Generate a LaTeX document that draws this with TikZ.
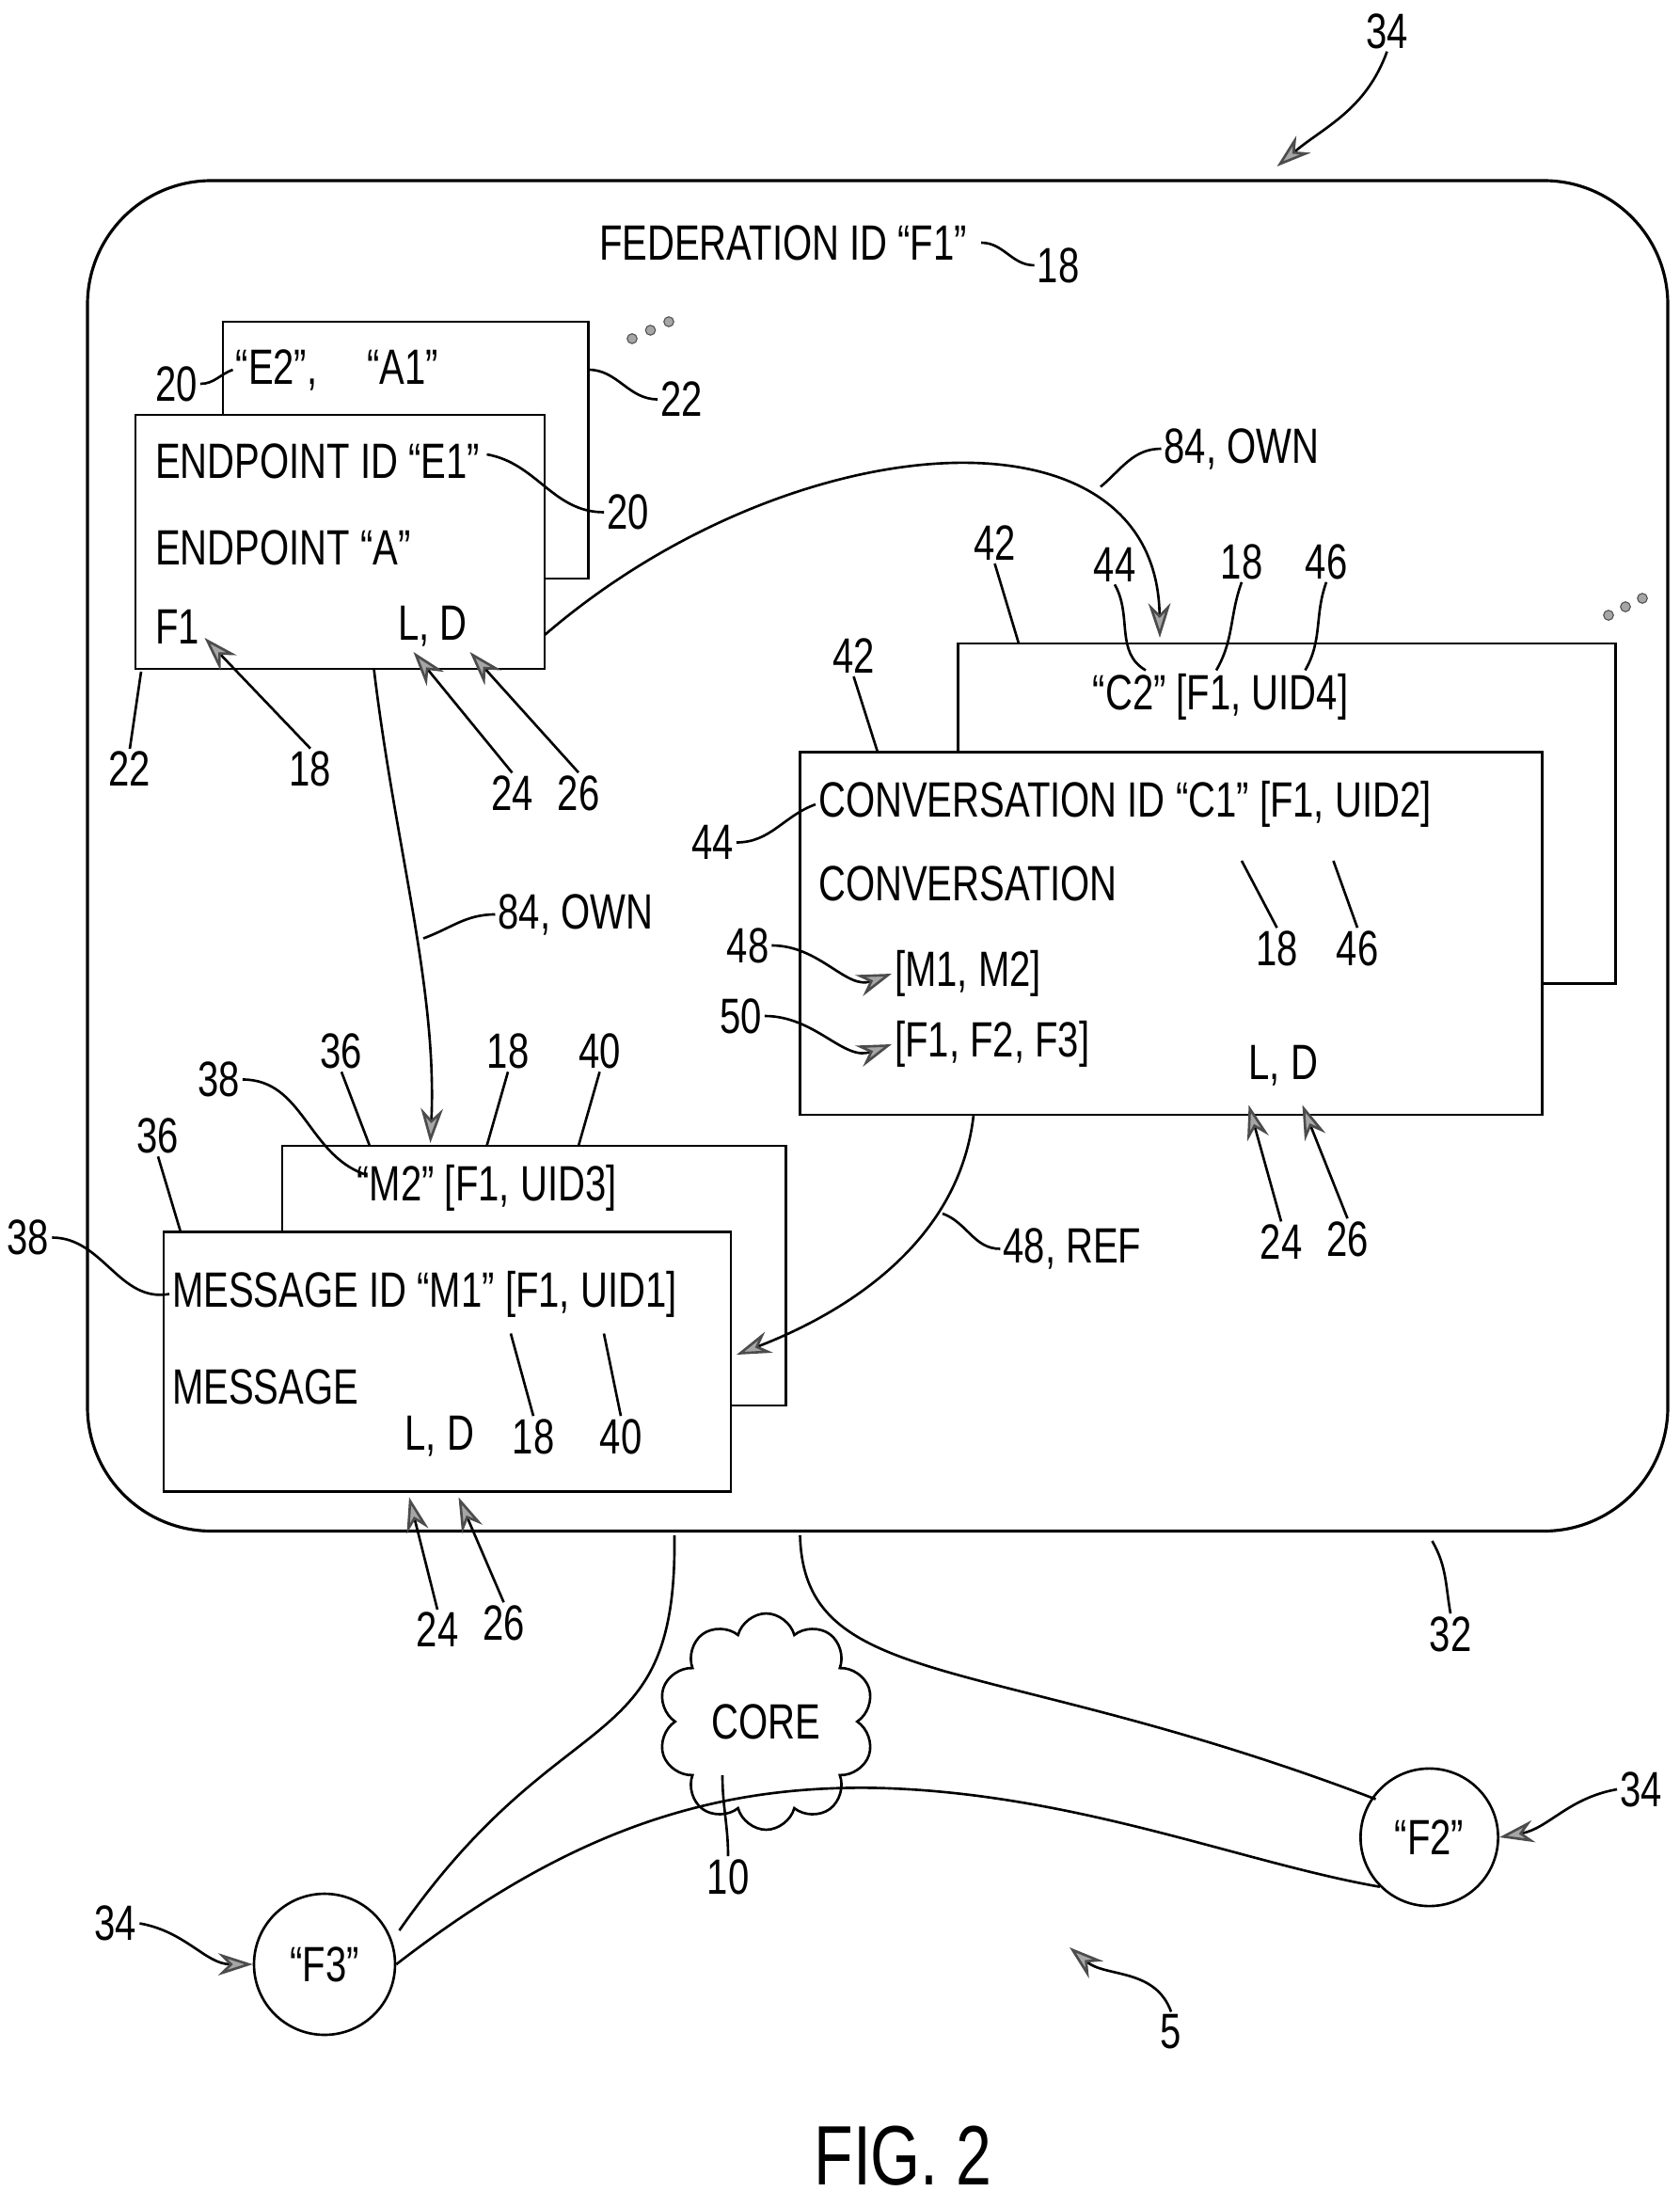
\documentclass[tikz,border=0pt]{standalone}
\usepackage{fontspec}
\setmainfont{Liberation Sans}[FakeStretch=0.76]
\usetikzlibrary{arrows.meta,shapes.symbols}
\begin{document}
\begin{tikzpicture}[x=0.02cm,y=-0.02cm,
  every node/.style={font=\fontsize{20}{24}\selectfont,inner sep=1pt},
  box/.style={draw,line width=1.1pt,fill=white},
  ln/.style={line width=1pt},
  dot/.style={circle,fill=gray!70,draw=black!70,inner sep=0pt,minimum size=4pt},
  arr/.style={line width=1pt,-{Stealth[length=14pt,width=9pt,color=black!70,fill=gray!70]}},
  lbl/.style={}]
\useasboundingbox (0,0) rectangle (1190,1564);
% outer federation
\draw[ln,line width=1.2pt,rounded corners=50] (62,128) rectangle (1182,1085);
\node[lbl] (fed) at (555,172) {FEDERATION ID ``F1''};
\node (n18a) at (750,188) {18};
\draw[ln] (fed.east)++(8,0) to[out=0,in=180] (n18a.west);
\node (n34a) at (983,22) {34};
\coordinate (c34a) at (905,118);
\draw[arr] (n34a.south) to[out=250,in=40] (c34a);
% endpoint boxes
\draw[box] (158,228) rectangle (417,410);
\draw[box] (96,294) rectangle (386,474);
\node[anchor=west] (e2) at (165,262) {``E2'',\quad ``A1''};
\node (n20a) at (125,272) {20};
\draw[ln] (n20a.east) to[out=0,in=200] (e2.west);
\node (n22a) at (483,283) {22};
\coordinate (c22a) at (417,262);
\draw[ln] (c22a) to[out=0,in=180] (n22a.west);
\node[dot] (d1) at (448,240) {}; \node[dot] (d2) at (461,234) {}; \node[dot] (d3) at (474,228) {};
\node[anchor=west] (e1) at (108,327) {ENDPOINT ID ``E1''};
\node[anchor=west] at (108,388) {ENDPOINT ``A''};
\node[anchor=west] (ef1) at (108,444) {F1};
\node[anchor=west] (eld) at (280,444) {L, D};
\node (n20b) at (445,363) {20};
\coordinate (c20b) at (345,322);
\draw[ln] (c20b) to[out=-10,in=180] (n20b.west);
\node (n22b) at (92,545) {22};
\draw[ln] (n22b.north) to (100,476);
\node (n18b) at (220,545) {18};
\draw[arr] (n18b.north) to (145,452);
\node (n24a) at (363,562) {24};
\draw[arr] (n24a.north) to (293,462);
\node (n26a) at (410,562) {26};
\draw[arr] (n26a.north) to (333,462);
% conversation boxes
\draw[box] (679,456) rectangle (1145,697);
\draw[box] (567,533) rectangle (1093,790);
\node (c2) at (865,494) {``C2'' [F1, UID4]};
\node[anchor=west] (c1) at (578,570) {CONVERSATION ID ``C1'' [F1, UID2]};
\node[anchor=west] at (578,626) {CONVERSATION};
\node[anchor=west] (m12) at (632,690) {[M1, M2]};
\node[anchor=west] (f123) at (632,740) {[F1, F2, F3]};
\node[anchor=west] at (883,755) {L, D};
\node (n42a) at (705,385) {42};
\draw[ln] (n42a.south) to (722,456);
\node (n42b) at (605,465) {42};
\draw[ln] (n42b.south) to (622,533);
\node (n44a) at (790,400) {44};
\node (n18c) at (880,398) {18};
\node (n46a) at (940,398) {46};
\draw[ln] (n44a.south) to[out=-60,in=150] (812,475);
\draw[ln] (n18c.south) to[out=-110,in=60] (862,475);
\draw[ln] (n46a.south) to[out=-110,in=60] (925,475);
\node[dot] (d4) at (1140,436) {}; \node[dot] (d5) at (1152,430) {}; \node[dot] (d6) at (1164,424) {};
\node (n44b) at (505,597) {44};
\draw[ln] (n44b.east) to[out=0,in=200] (c1.west);
\node (n48a) at (530,670) {48};
\draw[arr] (n48a.east) to[out=0,in=200] (m12.west);
\node (n50) at (525,720) {50};
\draw[arr] (n50.east) to[out=0,in=200] (f123.west);
\node (n18d) at (905,672) {18};
\draw[ln] (n18d.north) to (880,610);
\node (n46b) at (962,672) {46};
\draw[ln] (n46b.north) to (945,610);
\node (n24b) at (908,880) {24};
\draw[arr] (n24b.north) to (885,783);
\node (n26b) at (955,878) {26};
\draw[arr] (n26b.north) to (923,783);
% message boxes
\draw[box] (200,812) rectangle (557,996);
\draw[box] (116,873) rectangle (518,1057);
\node (m2) at (345,842) {``M2'' [F1, UID3]};
\node[anchor=west] (m1) at (120,917) {MESSAGE ID ``M1'' [F1, UID1]};
\node[anchor=west] at (120,983) {MESSAGE};
\node[anchor=west] at (285,1018) {L, D};
\node (n18e) at (378,1018) {18};
\draw[ln] (n18e.north) to (362,945);
\node (n40a) at (440,1018) {40};
\draw[ln] (n40a.north) to (428,945);
\node (n36a) at (112,805) {36};
\draw[ln] (n36a.south) to (128,873);
\node (n38a) at (20,877) {38};
\draw[ln] (n38a.east) to[out=0,in=190] (m1.west);
\node (n36b) at (242,745) {36};
\draw[ln] (n36b.south) to (262,812);
\node (n38b) at (155,765) {38};
\draw[ln] (n38b.east) to[out=0,in=160] (258,832);
\node (n18f) at (360,745) {18};
\draw[ln] (n18f.south) to (345,812);
\node (n40b) at (425,745) {40};
\draw[ln] (n40b.south) to (410,812);
\node (n24c) at (310,1155) {24};
\draw[arr] (n24c.north) to (290,1061);
\node (n26c) at (357,1150) {26};
\draw[arr] (n26c.north) to (325,1061);
\node (n32) at (1028,1158) {32};
\draw[ln] (n32.north) to[out=100,in=-60] (1015,1092);
% connectors
\coordinate (ownA) at (386,450);
\coordinate (ownB) at (822,452);
\draw[arr] (ownA) .. controls (560,300) and (820,280) .. (ownB);
\node (own1) at (880,318) {84, OWN};
\draw[ln] (own1.west) to[out=180,in=40] (780,345);
\coordinate (ownC) at (265,474);
\coordinate (ownD) at (305,810);
\draw[arr] (ownC) .. controls (280,600) and (310,700) .. (ownD);
\node (own2) at (408,648) {84, OWN};
\draw[ln] (own2.west) to[out=180,in=20] (300,665);
\coordinate (refA) at (690,790);
\coordinate (refB) at (522,960);
\draw[arr] (refA) .. controls (680,880) and (600,930) .. (refB);
\node (ref) at (760,885) {48, REF};
\draw[ln] (ref.west) to[out=180,in=-20] (668,860);
% network
\draw[ln] (478,1088) .. controls (480,1250) and (400,1200) .. (283,1368);
\draw[ln] (567,1088) .. controls (570,1200) and (700,1170) .. (975,1275);
\node[cloud,draw,line width=1pt,cloud puffs=10,inner xsep=4pt,inner ysep=6pt,fill=white] (core) at (543,1220) {CORE};
\node[circle,draw,line width=1pt,minimum size=1.95cm,inner sep=0pt] (f2) at (1013,1302) {``F2''};
\node[circle,draw,line width=1pt,minimum size=2cm,inner sep=0pt] (f3) at (230,1392) {``F3''};
\draw[ln] (f3.east) .. controls (400,1300) and (500,1265) .. (620,1267) .. controls (760,1270) and (880,1320) .. (f2.south west);
\node (n10) at (516,1330) {10};
\draw[ln] (n10.north) to[out=90,in=-90] (512,1258);
\node (n5) at (830,1440) {5};
\draw[arr] (n5.north) to[out=110,in=-40] (758,1380);
\node (n34b) at (1163,1268) {34};
\draw[arr] (n34b.west) to[out=190,in=10] (f2.east);
\node (n34c) at (82,1363) {34};
\draw[arr] (n34c.east) to[out=-10,in=180] (f3.west);
\node[font=\fontsize{34}{40}\selectfont] at (640,1528) {FIG. 2};
\end{tikzpicture}
\end{document}
